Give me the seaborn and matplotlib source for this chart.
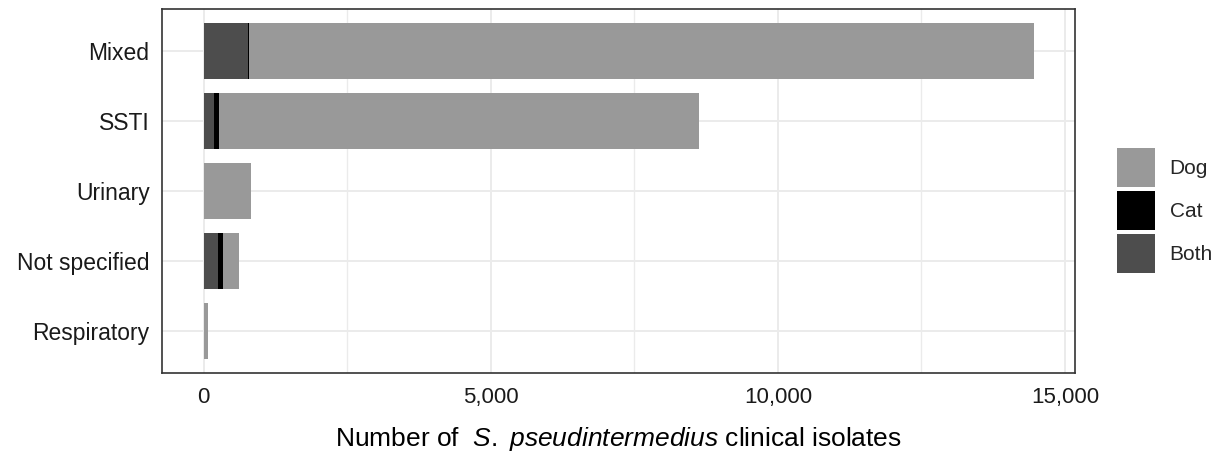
import matplotlib
matplotlib.use("Agg")
import matplotlib.pyplot as plt
from matplotlib.patches import Patch
from matplotlib.ticker import MultipleLocator, FuncFormatter
import seaborn as sns
import pandas as pd
import numpy as np

categories = ["Mixed", "SSTI", "Urinary", "Not specified", "Respiratory"]
both = [780, 185, 0, 245, 0]
cat = [15, 90, 0, 92, 0]
dog = [13670, 8350, 823, 285, 70]

sns.set_theme(style="white")
plt.rcParams["font.family"] = ["Liberation Sans", "DejaVu Sans"]
plt.rcParams["mathtext.fontset"] = "custom"
plt.rcParams["mathtext.rm"] = "Liberation Sans"
plt.rcParams["mathtext.it"] = "Liberation Sans:italic"

df = pd.DataFrame({"category": categories, "Both": both, "Cat": cat, "Dog": dog})
df["s_both"] = df["Both"]
df["s_cat"] = df["Both"] + df["Cat"]
df["s_dog"] = df["Both"] + df["Cat"] + df["Dog"]

col_dog = "#999999"
col_cat = "#000000"
col_both = "#4d4d4d"

fig = plt.figure(figsize=(12.22, 4.59), dpi=100)
ax = fig.add_axes([162 / 1222, 1 - 373 / 459, (1075 - 162) / 1222, (373 - 9) / 459])

w = 0.8
sns.barplot(data=df, y="category", x="s_dog", order=categories, color=col_dog,
            orient="h", width=w, ax=ax, saturation=1, linewidth=0, zorder=3)
sns.barplot(data=df, y="category", x="s_cat", order=categories, color=col_cat,
            orient="h", width=w, ax=ax, saturation=1, linewidth=0, zorder=3)
sns.barplot(data=df, y="category", x="s_both", order=categories, color=col_both,
            orient="h", width=w, ax=ax, saturation=1, linewidth=0, zorder=3)

total_max = df["s_dog"].max()
ax.set_xlim(-0.05 * total_max, 15000 + (1075 - 1065) / 57.5 * 1000)
ax.set_ylim(len(categories) - 1 + 0.6, -0.6)

ax.xaxis.set_major_locator(MultipleLocator(5000))
ax.xaxis.set_minor_locator(MultipleLocator(2500))
ax.xaxis.set_major_formatter(FuncFormatter(lambda v, p: f"{int(v):,}"))
ax.grid(True, which="major", axis="both", color="#ebebeb", linewidth=1.4, zorder=0)
ax.grid(True, which="minor", axis="x", color="#ebebeb", linewidth=1.0, zorder=0)
ax.set_axisbelow(True)

for s in ax.spines.values():
    s.set_color("#333333")
    s.set_linewidth(1.2)

ax.tick_params(axis="both", which="major", length=5, width=1.2, color="#333333",
               labelcolor="#1a1a1a", pad=3)
ax.tick_params(axis="x", which="major", labelsize=16, pad=5)
ax.tick_params(axis="y", which="major", labelsize=16.5, pad=4)
ax.tick_params(axis="x", which="minor", length=0)

ax.set_ylabel("")
ax.set_xlabel(r"Number of  $\mathit{S.\ pseudintermedius}$ clinical isolates",
              fontsize=19, color="#000000", labelpad=12)

handles = [Patch(facecolor=col_dog, edgecolor="none", label="Dog"),
           Patch(facecolor=col_cat, edgecolor="none", label="Cat"),
           Patch(facecolor=col_both, edgecolor="none", label="Both")]
fig.legend(handles=handles, loc="center left", bbox_to_anchor=(1117 / 1222, 1 - 210.5 / 459),
           frameon=False, fontsize=15, handlelength=1.83, handleheight=2.5,
           handletextpad=0.7, labelspacing=0.2, borderaxespad=0, borderpad=0)

fig.savefig("out.png", dpi=100)
